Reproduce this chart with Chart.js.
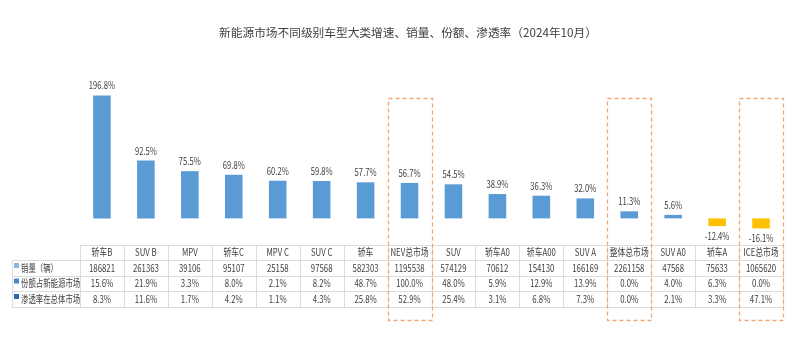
<!DOCTYPE html>
<html>
<head>
<meta charset="utf-8">
<script src="https://cdn.jsdelivr.net/npm/chart.js@4.4.1/dist/chart.umd.min.js"></script>
<style>
  html, body { margin: 0; padding: 0; background: #fff; }
  #wrap { width: 800px; height: 340px; }
</style>
</head>
<body>
<div id="wrap"><canvas id="growthChart" width="800" height="340"></canvas></div>
<script>
var title = '新能源市场不同级别车型大类增速、销量、份额、渗透率（2024年10月）';
var categories = ['轿车B', 'SUV B', 'MPV', '轿车C', 'MPV C', 'SUV C', '轿车', 'NEV总市场', 'SUV', '轿车A0', '轿车A00', 'SUV A', '整体总市场', 'SUV A0', '轿车A', 'ICE总市场'];
var growth = [196.8, 92.5, 75.5, 69.8, 60.2, 59.8, 57.7, 56.7, 54.5, 38.9, 36.3, 32.0, 11.3, 5.6, -12.4, -16.1];
var sales = [186821, 261363, 39106, 95107, 25158, 97568, 582303, 1195538, 574129, 70612, 154130, 166169, 2261158, 47568, 75633, 1065620];
var share = [15.6, 21.9, 3.3, 8.0, 2.1, 8.2, 48.7, 100.0, 48.0, 5.9, 12.9, 13.9, 0.0, 4.0, 6.3, 0.0];
var penetration = [8.3, 11.6, 1.7, 4.2, 1.1, 4.3, 25.8, 52.9, 25.4, 3.1, 6.8, 7.3, 0.0, 2.1, 3.3, 47.1];
var rowNames = ['销量（辆）', '份额占新能源市场', '渗透率在总体市场'];
var highlighted = ['NEV总市场', '整体总市场', 'ICE总市场'];

var FONT = '"Noto Sans CJK SC", "Noto Sans", sans-serif';
var TEXT = '#404040';

// text squeezed horizontally, the source font is narrower than Noto
function squeezed(ctx, text, x, y, sx) {
    ctx.save();
    ctx.translate(x, y);
    ctx.scale(sx, 1);
    ctx.fillText(text, 0, 0);
    ctx.restore();
}

var extras = {
    id: 'extras',
    afterDraw: function(chart) {
        var ctx = chart.ctx;
        var x = chart.scales.x;
        var meta = chart.getDatasetMeta(0);
        var colW = x.getPixelForValue(1) - x.getPixelForValue(0);
        ctx.save();

        // title
        ctx.fillStyle = TEXT;
        ctx.font = '11.7px ' + FONT;
        ctx.textAlign = 'center';
        ctx.textBaseline = 'middle';
        ctx.fillText(title, 408, 33);

        // bar value labels
        ctx.font = '10.5px ' + FONT;
        meta.data.forEach(function(bar, i) {
            var v = growth[i];
            var y = v >= 0 ? bar.y - 10 : bar.y + 10;
            squeezed(ctx, v.toFixed(1) + '%', bar.x, y, 0.73);
        });

        // data table
        var rows = [245, 260, 276, 291, 307];
        var left = x.getPixelForValue(0) - colW / 2;
        var right = x.getPixelForValue(categories.length - 1) + colW / 2;
        ctx.strokeStyle = '#dcdcdc';
        ctx.lineWidth = 1;
        ctx.beginPath();
        ctx.moveTo(left, rows[0] + 0.5); ctx.lineTo(right, rows[0] + 0.5);
        for (var r = 1; r < rows.length; r++) {
            ctx.moveTo(12, rows[r] + 0.5); ctx.lineTo(right, rows[r] + 0.5);
        }
        ctx.moveTo(12.5, rows[1]); ctx.lineTo(12.5, rows[4]);
        for (var c = 0; c <= categories.length; c++) {
            var cx = Math.round(left + c * colW) + 0.5;
            ctx.moveTo(cx, rows[0]); ctx.lineTo(cx, rows[4]);
        }
        ctx.stroke();

        ctx.font = '10px ' + FONT;
        ctx.fillStyle = TEXT;
        categories.forEach(function(cat, i) {
            var px = x.getPixelForValue(i);
            squeezed(ctx, cat, px, (rows[0] + rows[1]) / 2, 0.78);
            squeezed(ctx, String(sales[i]), px, (rows[1] + rows[2]) / 2, 0.78);
            squeezed(ctx, share[i].toFixed(1) + '%', px, (rows[2] + rows[3]) / 2, 0.78);
            squeezed(ctx, penetration[i].toFixed(1) + '%', px, (rows[3] + rows[4]) / 2, 0.78);
        });

        // row legend keys
        var keyColors = ['#8fb4de', '#4a88c7', '#2f6aa8'];
        ctx.textAlign = 'left';
        rowNames.forEach(function(name, r) {
            var cy = (rows[r + 1] + rows[r + 2]) / 2;
            ctx.fillStyle = keyColors[r];
            ctx.fillRect(14, cy - 5, 5, 5);
            ctx.fillStyle = TEXT;
            squeezed(ctx, name, 21, cy, 0.74);
        });

        // dashed highlight boxes
        ctx.strokeStyle = '#f1a676';
        ctx.lineWidth = 1.3;
        ctx.setLineDash([4, 3]);
        highlighted.forEach(function(name) {
            var i = categories.indexOf(name);
            var px = x.getPixelForValue(i);
            ctx.strokeRect(Math.round(px - colW / 2) + 0.5, 98.5, Math.round(colW), 222);
        });
        ctx.restore();
    }
};

var ctx = document.getElementById('growthChart');
var chart = new Chart(ctx, {
    type: 'bar',
    data: {
        labels: categories,
        datasets: [{
            data: growth,
            backgroundColor: growth.map(function(v) { return v < 0 ? '#ffc000' : '#5b9bd5'; }),
            barPercentage: 0.8,
            categoryPercentage: 0.5
        }]
    },
    options: {
        responsive: false,
        animation: false,
        devicePixelRatio: 1,
        layout: { padding: { left: 80, right: 17, top: 84, bottom: 106 } },
        plugins: {
            legend: { display: false },
            title: { display: false },
            tooltip: { enabled: false }
        },
        scales: {
            x: { display: false },
            y: { display: false, min: -25, max: 215 }
        }
    },
    plugins: [extras]
});
</script>
</body>
</html>
